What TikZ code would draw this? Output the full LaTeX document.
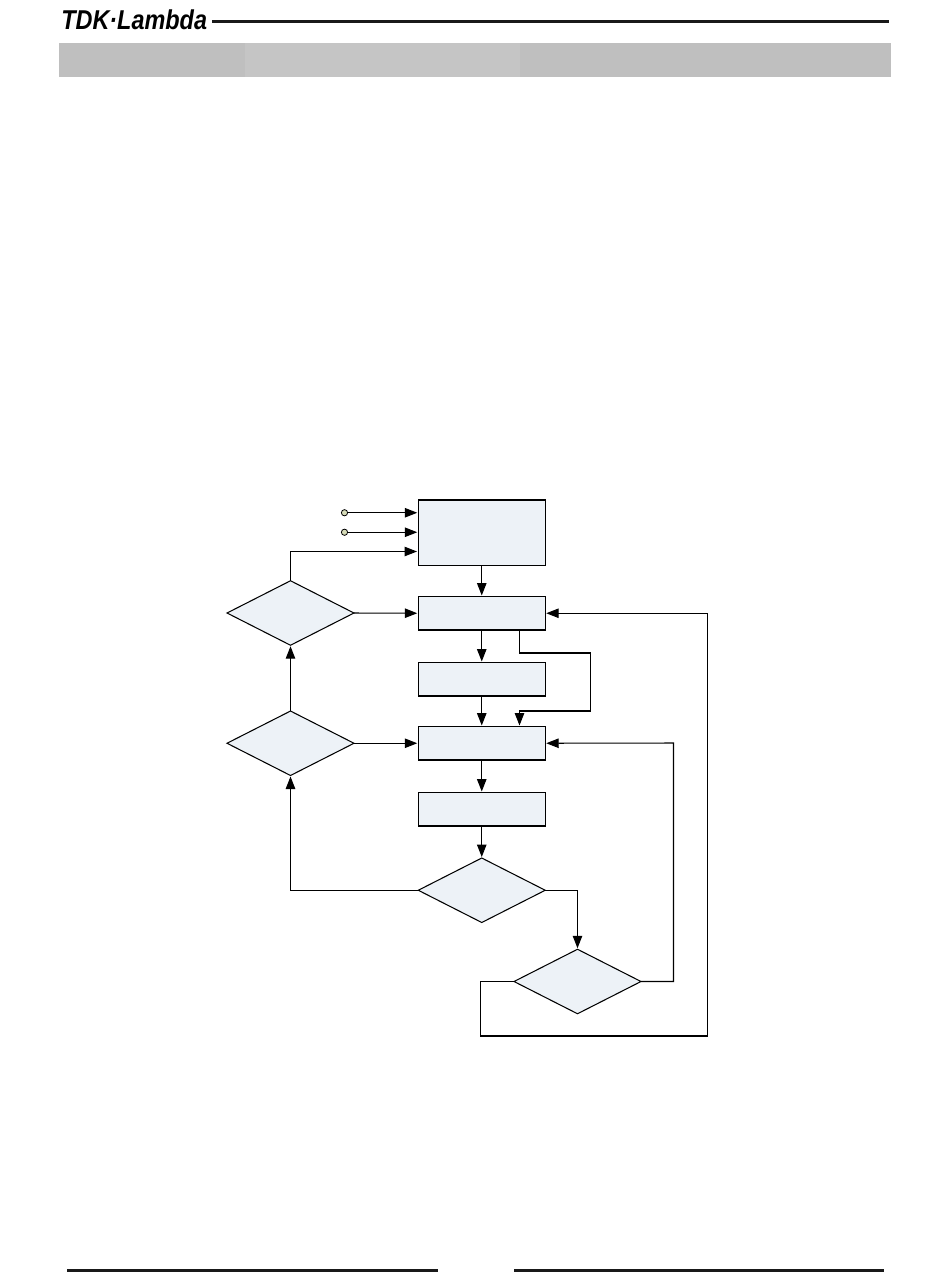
\documentclass[tikz,border=0pt]{standalone}
\usepackage{fontspec}
\setmainfont{Liberation Sans}
\usepackage{xcolor}
\usetikzlibrary{calc,shapes.geometric,arrows.meta}
\definecolor{box_fill}{HTML}{EDF2F7}
\definecolor{band_dark}{HTML}{BFBFBF}
\definecolor{band_light}{HTML}{C5C5C5}
\definecolor{pin_fill}{HTML}{D6DBB8}
\tikzset{
  stepbox/.style={draw=black,fill=box_fill,line width=0.6pt,minimum width=2.54cm,minimum height=0.67cm,inner sep=0pt,outer sep=0pt},
  testbox/.style={diamond,aspect=2,draw=black,fill=box_fill,line width=0.6pt,minimum width=2.54cm,minimum height=1.29cm,inner sep=0pt,outer sep=0pt},
  pin/.style={circle,draw=black,fill=pin_fill,line width=0.45pt,minimum size=0.125cm,inner sep=0pt,outer sep=0pt},
  wire/.style={line width=0.6pt,-{Triangle[length=0.25cm,width=0.19cm]},shorten >=0.02cm},
  rulehead/.style={line width=1.6pt,draw=black!90}
}
\begin{document}
\begin{tikzpicture}[x=0.02cm,y=-0.02cm]
        \useasboundingbox (0,0) rectangle (950,1288);

        % En-tete : logo, filet et bandeau gris
        \node[anchor=west,inner sep=0pt,xscale=0.86] (logo) at (61,19.5) {\fontsize{15.5pt}{15.5pt}\selectfont\bfseries\itshape TDK·Lambda};
        \coordinate (headend) at (889,21.5);
        \draw[rulehead] (212,21.5) coordinate (headstart) -- (headend);
        \fill[band_dark] (59,43) rectangle (245,77);
        \fill[band_light] (245,43) rectangle (520,77);
        \fill[band_dark] (520,43) rectangle (891,77);

        % Les blocs de la colonne centrale
        \node[stepbox,minimum height=1.31cm] (init) at (481.75,532.75) {};
        \node[stepbox] (stepa) at (481.75,613.25) {};
        \node[stepbox] (stepb) at (481.75,679.25) {};
        \node[stepbox] (stepc) at (481.75,743.25) {};
        \node[stepbox] (stepd) at (481.75,809.25) {};

        % Les tests
        \node[testbox] (testa) at (290.5,613) {};
        \node[testbox] (testb) at (290.5,743.25) {};
        \node[testbox] (testc) at (481.75,890.25) {};
        \node[testbox] (testd) at (577.5,981.5) {};

        % Les deux bornes d'entree
        \node[pin] (pina) at (344.5,512.75) {};
        \node[pin] (pinb) at (344.5,532.25) {};

        % Points de passage des liaisons
        \coordinate (ina) at (init.west |- pina);
        \coordinate (inb) at (init.west |- pinb);
        \coordinate (inc) at (418,551.5);
        \coordinate (outa) at (519.5,630);
        \coordinate (ina2) at (590.5,653);
        \coordinate (inc2) at (590.5,711);
        \coordinate (inc3) at (519.5,726.5);
        \coordinate (loopb) at (673.5,743);
        \coordinate (loopc) at (480.5,1036);
        \coordinate (loopd) at (707.5,1036);

        % Les liaisons de la colonne centrale
        \draw[wire] (pina) -- (ina);
        \draw[wire] (pinb) -- (inb);
        \draw[wire] (init) -- (stepa);
        \draw[wire] (stepa) -- (stepb);
        \draw[wire] (stepb) -- (stepc);
        \draw[wire] (stepc) -- (stepd);
        \draw[wire] (stepd) -- (testc);

        % Les liaisons de gauche
        \draw[wire] (testa.north) |- (inc);
        \draw[wire] (testa.east) -- (stepa.west);
        \draw[wire] (testb.north) -- (testa.south);
        \draw[wire] (testb.east) -- (stepc.west);
        \draw[wire] (testc.west) -| (testb.south);

        % Les liaisons de droite
        \draw[wire] (outa) |- (ina2) -- (inc2) -| (inc3);
        \draw[wire] (testc.east) -| (testd.north);
        \draw[wire] (testd.east) -| (loopb) -- (stepc.east);
        \draw[wire] (testd.west) -| (loopc) -- (loopd) |- (stepa.east);

        % Filets du bas de page
        \draw[line width=1.3pt,draw=black!90] (67,1270.5) coordinate (foota) -- (438,1270.5) coordinate (footb);
        \draw[line width=1.3pt,draw=black!90] (514,1270.5) coordinate (footc) -- (884,1270.5) coordinate (footd);
    \end{tikzpicture}
\end{document}
